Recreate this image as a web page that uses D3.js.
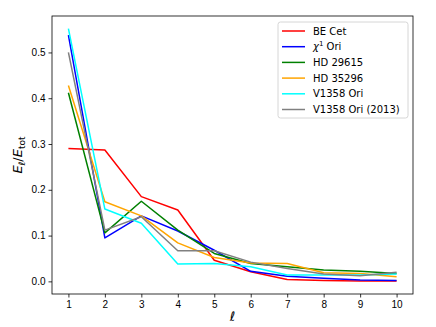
<!DOCTYPE html>
<html>
<head>
<meta charset="utf-8">
<script src="https://cdn.jsdelivr.net/npm/d3@7"></script>
<style>
  body { margin: 0; background: #fff; }
  svg { font-family: "DejaVu Sans", sans-serif; }
</style>
</head>
<body>
<div id="chart"></div>
<script>
var ells = [1, 2, 3, 4, 5, 6, 7, 8, 9, 10];
var star_names = ["BE Cet", "χ1 Ori", "HD 29615", "HD 35296", "V1358 Ori", "V1358 Ori (2013)"];
var be_cet   = [0.290, 0.287, 0.185, 0.156, 0.046, 0.021, 0.004, 0.002, 0.001, 0.001];
var chi1_ori = [0.538, 0.095, 0.143, 0.110, 0.068, 0.022, 0.011, 0.007, 0.003, 0.002];
var hd29615  = [0.412, 0.106, 0.175, 0.112, 0.061, 0.039, 0.032, 0.025, 0.022, 0.017];
var hd35296  = [0.428, 0.174, 0.143, 0.084, 0.052, 0.040, 0.039, 0.019, 0.017, 0.010];
var v1358    = [0.552, 0.158, 0.127, 0.038, 0.039, 0.032, 0.014, 0.014, 0.014, 0.016];
var v1358_13 = [0.500, 0.112, 0.141, 0.067, 0.067, 0.042, 0.028, 0.016, 0.012, 0.020];
var x_ticks = [1, 2, 3, 4, 5, 6, 7, 8, 9, 10];
var y_ticks = [0.0, 0.1, 0.2, 0.3, 0.4, 0.5];

var all_series = [be_cet, chi1_ori, hd29615, hd35296, v1358, v1358_13];
var color_set = ["#ff0000", "#0000ff", "#008000", "#ffa500", "#00ffff", "#808080"];

var W = 436, H = 327;
var Margin = {top: 16, right: 23, bottom: 33, left: 52};
var InnerWidth = W - Margin.left - Margin.right;
var InnerHeight = H - Margin.top - Margin.bottom;

var svg = d3.select("#chart").append("svg")
            .attr("width", W).attr("height", H);
var g = svg.append("g")
           .attr("transform", "translate(" + Margin.left + "," + Margin.top + ")");

// matplotlib style 5% margins
var x = d3.scaleLinear().domain([0.55, 10.45]).range([0, InnerWidth]);
var y = d3.scaleLinear().domain([-0.0276, 0.5796]).range([InnerHeight, 0]);

var line = d3.line().x((d, i) => x(ells[i])).y(d => y(d));

g.selectAll("path.series").data(all_series)
 .enter().append("path")
 .attr("class", "series")
 .attr("d", d => line(d))
 .attr("fill", "none")
 .attr("stroke", (d, i) => color_set[i])
 .attr("stroke-width", 1.5)
 .attr("stroke-linejoin", "round");

var xAxis = g.append("g").attr("transform", "translate(0," + InnerHeight + ")")
             .call(d3.axisBottom(x).tickValues(x_ticks).tickSize(3.5).tickPadding(3).tickFormat(d3.format("d")));
var yAxis = g.append("g")
             .call(d3.axisLeft(y).tickValues(y_ticks).tickSize(3.5).tickPadding(3).tickFormat(d3.format(".1f")));
[xAxis, yAxis].forEach(a => {
  a.selectAll("text").style("font-size", "10px").attr("fill", "#000");
  a.selectAll("line").attr("stroke", "#000").attr("stroke-width", 0.8);
  a.select(".domain").remove();
});

g.append("rect").attr("x", 0).attr("y", 0)
 .attr("width", InnerWidth).attr("height", InnerHeight)
 .attr("fill", "none").attr("stroke", "#000").attr("stroke-width", 0.8);

// axis labels
svg.append("text").attr("x", Margin.left + InnerWidth / 2).attr("y", 321)
   .attr("text-anchor", "middle").style("font-size", "13px").style("font-style", "italic")
   .text("ℓ");

var ylab = svg.append("text")
   .attr("transform", "translate(22," + (Margin.top + InnerHeight / 2) + ") rotate(-90)")
   .attr("text-anchor", "middle").style("font-size", "13px");
ylab.append("tspan").style("font-style", "italic").text("E");
ylab.append("tspan").attr("dy", 3).style("font-size", "9px").style("font-style", "italic").text("ℓ");
ylab.append("tspan").attr("dy", -3).text("/");
ylab.append("tspan").style("font-style", "italic").text("E");
ylab.append("tspan").attr("dy", 3).style("font-size", "9px").text("tot");

// legend
var lg = svg.append("g").attr("transform", "translate(278,22)");
lg.append("rect").attr("width", 130).attr("height", 96).attr("rx", 2.5)
  .attr("fill", "#fff").attr("fill-opacity", 0.8)
  .attr("stroke", "#cccccc").attr("stroke-width", 0.8);
star_names.forEach((name, i) => {
  var row = lg.append("g").attr("transform", "translate(0," + (9 + i * 15.7) + ")");
  row.append("line").attr("x1", 4).attr("x2", 27).attr("y1", 0).attr("y2", 0)
     .attr("stroke", color_set[i]).attr("stroke-width", 1.5);
  var t = row.append("text").attr("x", 35).attr("y", 3.5).style("font-size", "10px");
  if (name === "χ1 Ori") {
    t.append("tspan").style("font-style", "italic").text("χ");
    t.append("tspan").attr("dy", -4).style("font-size", "7px").text("1");
    t.append("tspan").attr("dy", 4).text(" Ori");
  } else {
    t.text(name);
  }
});
</script>
</body>
</html>
